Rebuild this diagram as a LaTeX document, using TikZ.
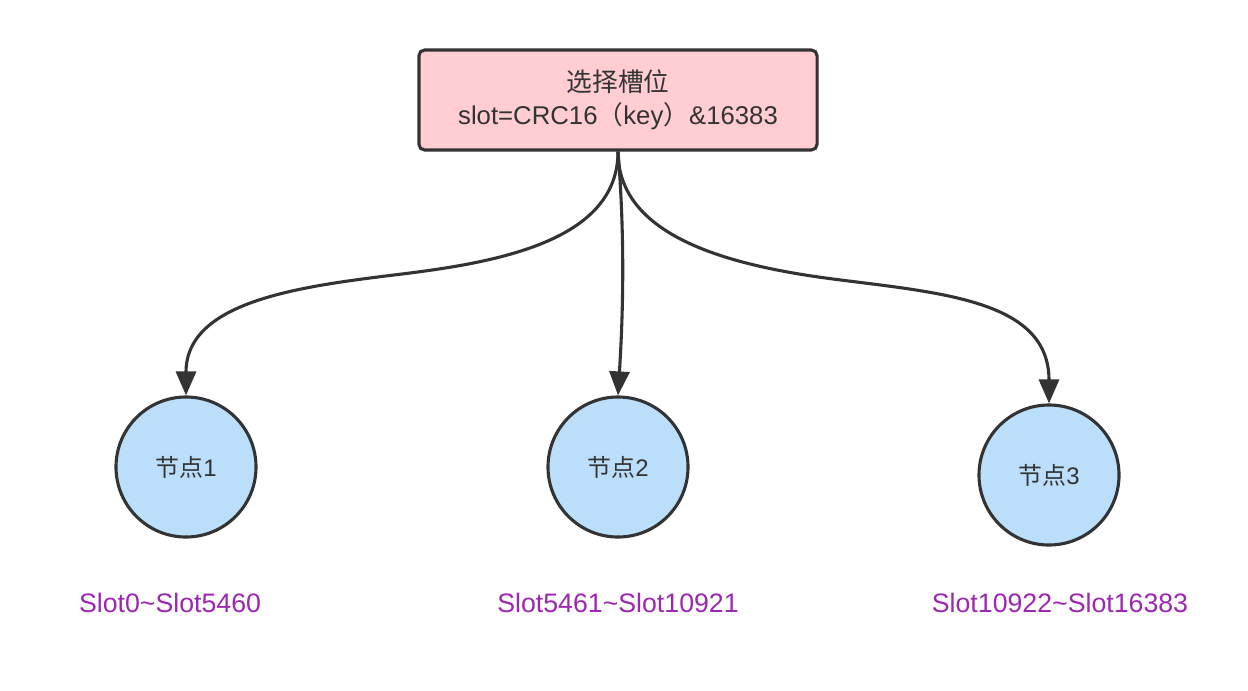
\documentclass[tikz,border=0pt]{standalone}
\usepackage{fontspec}
\setmainfont{Liberation Sans}
\newfontfamily\cjk{Noto Sans CJK SC}
\usepackage{xcolor}
\usetikzlibrary{arrows.meta, positioning}

\definecolor{boxpink}{RGB}{255,205,210}
\definecolor{nodeblue}{RGB}{187,222,251}
\definecolor{slotpurple}{RGB}{156,39,176}
\definecolor{edge}{RGB}{51,51,51}

\begin{document}
\begin{tikzpicture}[x=0.025cm, y=-0.025cm, > = {Triangle[length=0.6cm, width=0.5cm]},
	selbox/.style = {draw=edge, line width=2.2pt, fill=boxpink, rounded corners=4pt,
		minimum width=9.95cm, minimum height=2.5cm, align=center, text=edge,
		font=\fontsize{18.3}{23.4}\selectfont},
	slotnode/.style = {circle, draw=edge, line width=2.2pt, fill=nodeblue,
		minimum size=3.5cm, inner sep=0pt, text=edge, font=\fontsize{17}{20}\selectfont},
	slotlabel/.style = {text=slotpurple, font=\fontsize{19}{22}\selectfont},
	link/.style = {->, draw=edge, line width=2.2pt}]
			\useasboundingbox (0,0) rectangle (1248,690);
			
			\node [selbox] (sel) at (618,100) {{\cjk 选择槽位}\\slot=CRC16{\cjk（}key{\cjk ）}\&16383};
			
			\node [slotnode] (n1) at (186,467) {{\cjk 节点}1};
			\node [slotnode] (n2) at (618,467) {{\cjk 节点}2};
			\node [slotnode] (n3) at (1049,475) {{\cjk 节点}3};
			
			\node [slotlabel] (s1) at (170,603) {Slot0\textasciitilde Slot5460};
			\node [slotlabel] (s2) at (618,603) {Slot5461\textasciitilde Slot10921};
			\node [slotlabel] (s3) at (1060,603) {Slot10922\textasciitilde Slot16383};
			
			% bends in the middle of the two side links
			\coordinate (m1) at (402,274);
			\coordinate (m3) at (833,279);
			
			\draw [link] (sel.south) .. controls (618,240) and (500,262) .. (m1)
				.. controls (304,286) and (186,300) .. (n1.north);
			\draw [link] (sel.south) .. controls (626,250) and (622,330) .. (n2.north);
			\draw [link] (sel.south) .. controls (618,235) and (725,265) .. (m3)
				.. controls (941,293) and (1049,300) .. (n3.north);
		\end{tikzpicture}
\end{document}
